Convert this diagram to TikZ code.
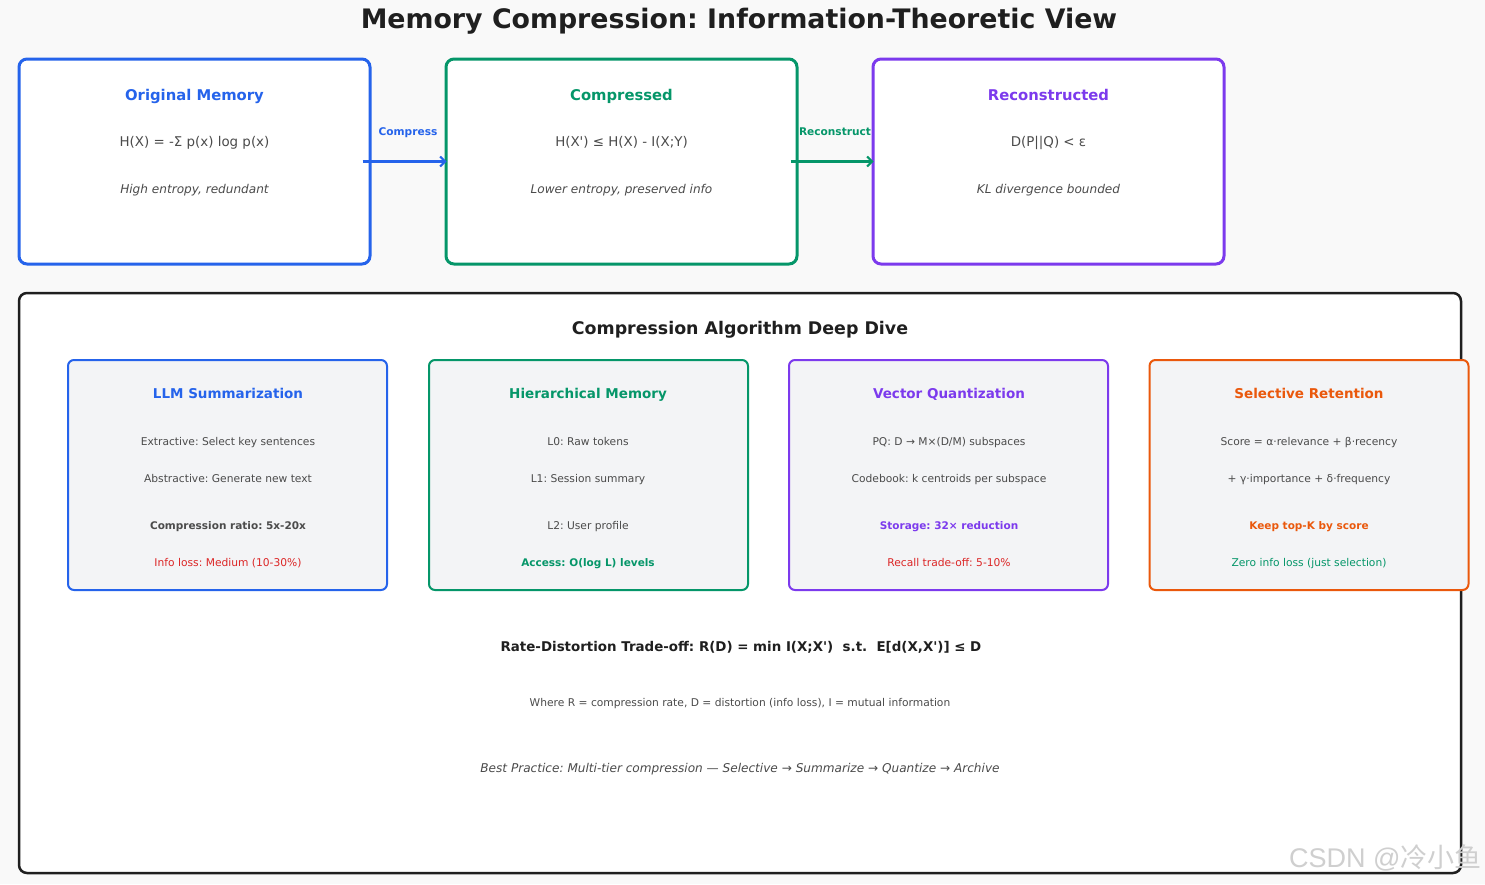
\documentclass[tikz,border=0pt]{standalone}
\usepackage{fontspec}
\setmainfont{DejaVu Sans}[Ligatures=TeXOff]
\newfontfamily\cjkfont{Noto Sans CJK SC}
\newfontfamily\wmfont{Liberation Sans}
\usetikzlibrary{arrows.meta}
\definecolor{cblue}{HTML}{2563EB}
\definecolor{cgreen}{HTML}{059669}
\definecolor{cpurple}{HTML}{7C3AED}
\definecolor{corange}{HTML}{EA580C}
\definecolor{cred}{HTML}{DC2626}
\definecolor{cdark}{HTML}{1F1F1F}
\definecolor{cgray}{HTML}{4B4B4B}
\definecolor{cfill}{HTML}{F3F4F6}
\definecolor{cbg}{HTML}{F9F9F9}
\definecolor{cwm}{HTML}{CFCFCF}
\newcommand{\fs}[1]{\fontsize{#1}{#1}\selectfont}
\frenchspacing
\tikzset{
  txt/.style={inner sep=0pt, text height=#1, text depth=0pt},
  topbox/.style={draw=#1, line width=3pt, fill=white, rounded corners=8pt, minimum width=351pt, minimum height=205pt, inner sep=0pt},
  card/.style={draw=#1, line width=2pt, fill=cfill, rounded corners=6pt, minimum width=319pt, minimum height=230pt, inner sep=0pt},
  toptitle/.style={txt=10.8pt, text=#1, font=\fs{14.8}\bfseries},
  formula/.style={txt=9.8pt, text=cgray, font=\fs{13.4}},
  note/.style={txt=8.8pt, text=cgray, font=\fs{12.1}\itshape},
  cardtitle/.style={txt=9.9pt, text=#1, font=\fs{13.5}\bfseries},
  line/.style={txt=7.8pt, text=#1, font=\fs{10.7}},
  bline/.style={txt=7.7pt, text=#1, font=\fs{10.5}\bfseries},
  flow/.style={draw=#1, line width=2.5pt, -{Straight Barb[length=5pt,width=10pt,line width=2pt]}},
  arrlabel/.style={txt=7.7pt, text=#1, font=\fs{10.6}\bfseries},
}
\begin{document}
\begin{tikzpicture}[x=1pt,y=-1pt]
\fill[cbg] (0,0) rectangle (1485,884);
\useasboundingbox (0,0) rectangle (1485,884);

\node[txt=19.6pt, text=cdark, font=\fs{26.8}\bfseries] (title) at (739,19) {Memory Compression: Information-Theoretic View};

% top boxes
\node[topbox=cblue] (orig) at (194.5,161.5) {};
\node[topbox=cgreen] (comp) at (621.5,161.5) {};
\node[topbox=cpurple] (recon) at (1048.5,161.5) {};

\node[toptitle=cblue] (origT) at (194.5,95) {Original Memory};
\node[formula] (origF) at (194.5,142) {H(X) = -Σ p(x) log p(x)};
\node[note] (origN) at (194.5,189) {High entropy, redundant};

\node[toptitle=cgreen] (compT) at (621.5,95) {Compressed};
\node[formula] (compF) at (621.5,142) {H(X') ≤ H(X) - I(X;Y)};
\node[note] (compN) at (621.5,189) {Lower entropy, preserved info};

\node[toptitle=cpurple] (reconT) at (1048.5,95) {Reconstructed};
\node[formula] (reconF) at (1048.5,142) {D(P||Q) < ε};
\node[note] (reconN) at (1048.5,189) {KL divergence bounded};

\draw[flow=cblue] ([xshift=-9pt]orig.east) -- ([xshift=2pt]comp.west);
\node[arrlabel=cblue] (lc) at (408,132) {Compress};
\draw[flow=cgreen] ([xshift=-8pt]comp.east) -- ([xshift=2pt]recon.west);
\node[arrlabel=cgreen] (lr) at (835,132) {Reconstruct};

% big box
\node[draw=cdark, line width=2.5pt, fill=white, rounded corners=8pt, minimum width=1442pt, minimum height=580pt, inner sep=0pt] (big) at (740,583) {};
\node[txt=12.7pt, text=cdark, font=\fs{17.4}\bfseries] (bigT) at (740,328) {Compression Algorithm Deep Dive};

% cards
\node[card=cblue] (c1) at (227.5,475) {};
\node[card=cgreen] (c2) at (588.5,475) {};
\node[card=cpurple] (c3) at (948.5,475) {};
\node[card=corange] (c4) at (1309,475) {};

\node[cardtitle=cblue] (c1t) at (228,394) {LLM Summarization};
\node[line=cgray] (c1a) at (228,442) {Extractive: Select key sentences};
\node[line=cgray] (c1b) at (228,479) {Abstractive: Generate new text};
\node[bline=cgray] (c1c) at (228,526) {Compression ratio: 5x-20x};
\node[line=cred] (c1d) at (228,563) {Info loss: Medium (10-30\%)};

\node[cardtitle=cgreen] (c2t) at (588,394) {Hierarchical Memory};
\node[line=cgray] (c2a) at (588,442) {L0: Raw tokens};
\node[line=cgray] (c2b) at (588,479) {L1: Session summary};
\node[line=cgray] (c2c) at (588,526) {L2: User profile};
\node[bline=cgreen] (c2d) at (588,563) {Access: O(log L) levels};

\node[cardtitle=cpurple] (c3t) at (949,394) {Vector Quantization};
\node[line=cgray] (c3a) at (949,442) {PQ: D → M×(D/M) subspaces};
\node[line=cgray] (c3b) at (949,479) {Codebook: k centroids per subspace};
\node[bline=cpurple] (c3c) at (949,526) {Storage: 32× reduction};
\node[line=cred] (c3d) at (949,563) {Recall trade-off: 5-10\%};

\node[cardtitle=corange] (c4t) at (1309,394) {Selective Retention};
\node[line=cgray] (c4a) at (1309,442) {Score = α·relevance + β·recency};
\node[line=cgray] (c4b) at (1309,479) {+ γ·importance + δ·frequency};
\node[bline=corange] (c4c) at (1309,526) {Keep top-K by score};
\node[line=cgreen] (c4d) at (1309,563) {Zero info loss (just selection)};

\node[txt=9.8pt, text=cdark, font=\fs{13.4}\bfseries] (rd) at (741,647) {Rate-Distortion Trade-off: R(D) = min I(X;X')\ \ s.t.\ \ E[d(X,X')] ≤ D};
\node[line=cgray] (rdw) at (740,703) {Where R = compression rate, D = distortion (info loss), I = mutual information};
\node[note] (bp) at (740,768) {Best Practice: Multi-tier compression — Selective → Summarize → Quantize → Archive};

\node[txt=19.4pt, text=cwm, font=\fs{27}, anchor=west] (wm) at (1289,858) {\wmfont CSDN @\cjkfont 冷小鱼};
\end{tikzpicture}
\end{document}
